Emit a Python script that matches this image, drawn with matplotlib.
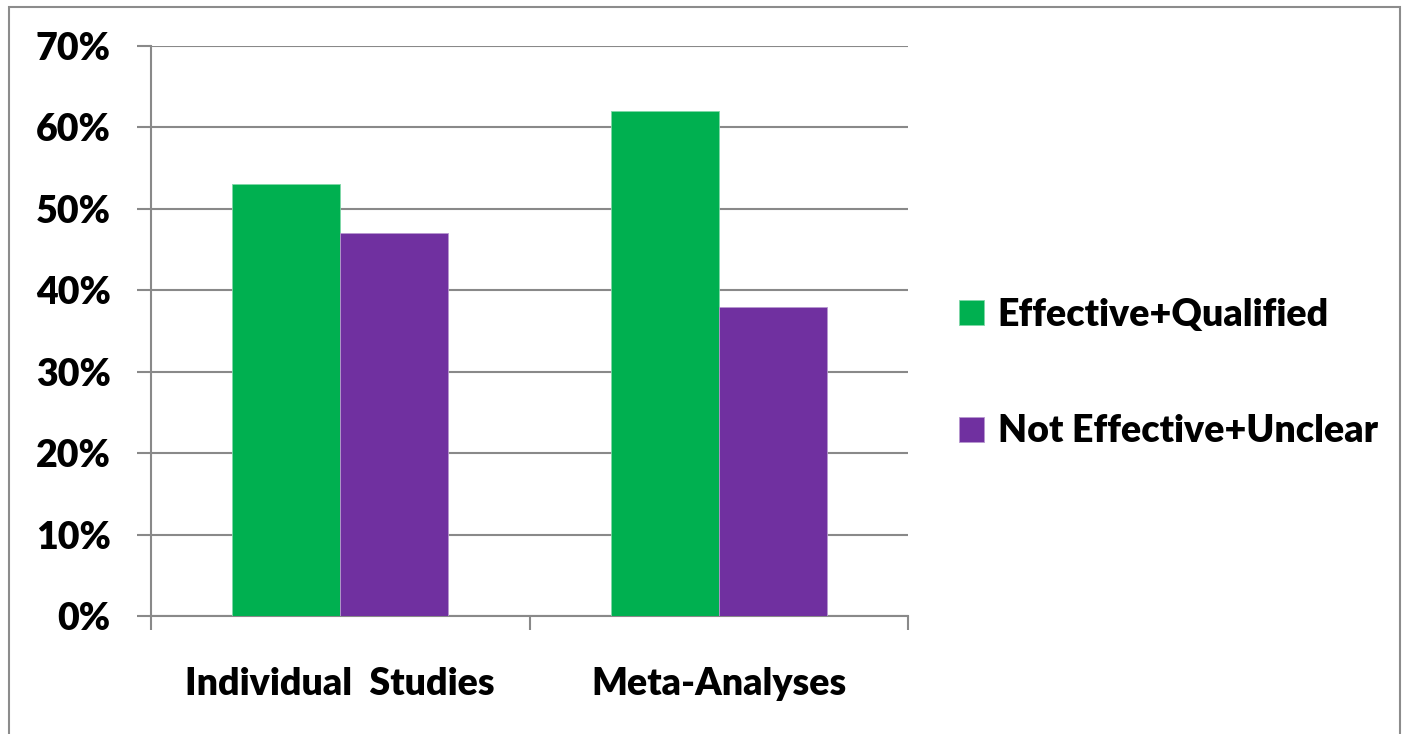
import numpy as np
import matplotlib.pyplot as plt
from matplotlib.patches import Rectangle
from matplotlib.ticker import FuncFormatter

categories = ['Individual  Studies', 'Meta-Analyses']
series_names = ['Effective+Qualified', 'Not Effective+Unclear']
effective = [53, 62]
not_effective = [47, 38]
colors = ['#00B050', '#7030A0']

plt.rcParams['font.family'] = ['Lato', 'DejaVu Sans']
plt.rcParams['font.weight'] = 'heavy'

W, H = 1403, 734
fig = plt.figure(figsize=(W / 100, H / 100), dpi=100)
ax = fig.add_axes([151 / W, 1 - 616 / H, (908 - 151) / W, (616 - 46) / H])

x = np.arange(len(categories))
bw = 0.285
ax.bar(x - bw / 2, effective, bw, color=colors[0], label=series_names[0],
       edgecolor='#7fd7a7', linewidth=0.6, zorder=3)
ax.bar(x + bw / 2, not_effective, bw, color=colors[1], label=series_names[1],
       edgecolor='#b797cf', linewidth=0.6, zorder=3)

grid_c = '#898989'
fs = 27
ax.set_xlim(-0.5, len(categories) - 0.5)
ax.set_ylim(0, 70)
ax.set_yticks(np.arange(0, 71, 10))
ax.yaxis.set_major_formatter(FuncFormatter(lambda v, p: f'{v:.0f}%'))
ax.grid(axis='y', color=grid_c, linewidth=1.5, zorder=0)
ax.tick_params(axis='y', length=10, width=1.5, color=grid_c, pad=19, labelsize=fs)

ax.set_xticks(x)
ax.set_xticklabels(categories)
ax.set_xticks(np.arange(-0.5, len(categories)), minor=True)
ax.tick_params(axis='x', which='major', length=0, pad=37, labelsize=fs)
ax.tick_params(axis='x', which='minor', length=10, width=1.5, color=grid_c)

for s in ['top', 'right']:
    ax.spines[s].set_visible(False)
for s in ['left', 'bottom']:
    ax.spines[s].set_color(grid_c)
    ax.spines[s].set_linewidth(1.5)

fig.legend(loc='upper left', bbox_to_anchor=(959 / W, 1 - 298 / H), frameon=False,
           fontsize=fs, borderpad=0, borderaxespad=0,
           handlelength=0.66, handleheight=0.66, handletextpad=0.37,
           labelspacing=2.2)

# outer frame of the chart area (bottom edge runs off the image)
fig.patches.append(Rectangle((9, -40), 1391, H - 7 + 40, transform=None, fill=False,
                             edgecolor='#8c8c8c', linewidth=1.5))

fig.savefig('out.png', dpi=100)
